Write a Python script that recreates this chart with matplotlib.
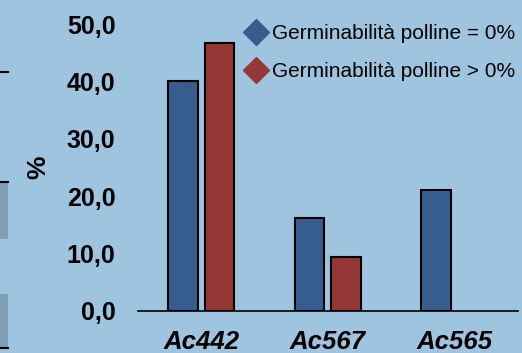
import matplotlib.pyplot as plt
from matplotlib.lines import Line2D
from matplotlib.patches import Rectangle
import numpy as np

plt.rcParams['font.family'] = ['Liberation Sans', 'DejaVu Sans']

# Pollen germinability per accession
categories = ['Ac442', 'Ac567', 'Ac565']
zero_germ = [40.1, 16.2, 21.1]       # Germinabilità polline = 0%
pos_germ = [46.7, 9.4, np.nan]       # Germinabilità polline > 0%
y_ticks = [0, 10, 20, 30, 40, 50]
y_tick_labels = ['0,0', '10,0', '20,0', '30,0', '40,0', '50,0']
series_labels = ['Germinabilità polline = 0%', 'Germinabilità polline > 0%']

bg = '#9fc4df'
blue = '#375d8e'
red = '#953735'

fig = plt.figure(figsize=(5.22, 3.53), dpi=100, facecolor=bg)
ax = fig.add_axes([0.264, 0.119, 0.728, 0.813])
ax.set_facecolor(bg)

x = np.arange(len(categories))
w = 0.233
ax.bar(x - 0.144, zero_germ, w, color=blue, edgecolor='black', linewidth=1.5, zorder=3)
ax.bar(x + 0.144, pos_germ, w, color=red, edgecolor='black', linewidth=1.5, zorder=3)

ax.set_xlim(-0.5, 2.5)
ax.set_ylim(0, 50)
ax.set_yticks(y_ticks)
ax.set_yticklabels(y_tick_labels, fontsize=18, fontweight='bold')
ax.set_xticks(x)
ax.set_xticklabels(categories, fontsize=18.5, fontweight='bold', style='italic')
ax.tick_params(length=0)
ax.tick_params(axis='y', pad=16)
ax.tick_params(axis='x', pad=14)
for side in ['left', 'right', 'top']:
    ax.spines[side].set_visible(False)
ax.spines['bottom'].set_color('black')
ax.spines['bottom'].set_linewidth(1.2)
ax.spines['bottom'].set_zorder(4)

ax.set_ylabel('%', fontsize=19, fontweight='bold', labelpad=12)

handles = [Line2D([], [], marker='D', linestyle='none', markersize=13,
                  markerfacecolor=c, markeredgecolor=c) for c in (blue, red)]
fig.legend(handles, series_labels, loc='upper left', bbox_to_anchor=(0.44, 0.972),
           frameon=False, fontsize=15, handletextpad=0.25, labelspacing=0.9,
           handlelength=1.1, borderpad=0.2)

# bits of neighbouring shapes along the left edge
fig.add_artist(Line2D([0, 8 / 522], [1 - 72 / 353] * 2, color='black', linewidth=1.5,
                      transform=fig.transFigure))
fig.add_artist(Rectangle((0, 1 - 239 / 353), 8 / 522, 57 / 353, facecolor='#809eb1',
                         edgecolor='none', transform=fig.transFigure))
fig.add_artist(Line2D([0, 8 / 522], [1 - 182 / 353] * 2, color='black', linewidth=1.5,
                      transform=fig.transFigure))
fig.add_artist(Rectangle((0, 1 - 348 / 353), 8 / 522, 54 / 353, facecolor='#809eb1',
                         edgecolor='none', transform=fig.transFigure))
fig.add_artist(Line2D([0, 8 / 522], [1 - 348 / 353] * 2, color='black', linewidth=1.5,
                      transform=fig.transFigure))

fig.savefig('out.png', dpi=100, facecolor=bg)
